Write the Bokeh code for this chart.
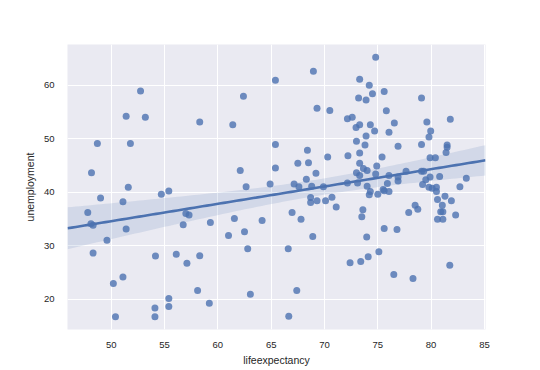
import numpy as np
from bokeh.plotting import figure
from bokeh.models import Range1d, FixedTicker
from bokeh.embed import file_html
from bokeh.resources import INLINE

life = [52.75, 51.4, 53.2, 58.3, 48.7, 51.8, 48.15, 51.6, 55.4, 49.0, 54.7, 51.1, 47.8, 48.1,
        48.3, 51.4, 49.6, 57.0, 57.3, 56.75, 48.3, 54.15, 56.1, 57.1, 58.3, 51.1, 50.2, 58.1,
        55.4, 54.1, 55.4, 50.4, 54.1, 59.3, 62.65, 64.9, 67.15, 67.6, 68.3, 68.8, 69.9, 68.7,
        68.7, 69.3, 70.1, 70.7, 71.1, 61.55, 64.15, 66.96, 67.8, 61.0, 62.5, 68.9, 62.8, 66.6,
        63.05, 67.4, 59.2, 66.65, 68.96, 65.4, 62.4, 69.3, 70.5, 61.4, 65.4, 68.4, 70.3, 65.4,
        67.5, 68.5, 62.1, 69.2, 74.8, 73.3, 74.2, 74.5, 75.6, 73.2, 73.9, 79.1, 75.8, 72.15,
        72.6, 72.96, 73.3, 74.3, 74.7, 76.55, 76.05, 79.6, 79.96, 79.8, 81.8, 73.9, 73.0, 73.8,
        76.9, 79.1, 81.5, 81.5, 81.4, 72.2, 73.3, 75.4, 79.9, 80.4, 73.3, 73.65, 74.0, 74.9,
        73.0, 73.3, 74.8, 76.05, 76.9, 77.65, 79.1, 79.3, 76.9, 75.9, 74.0, 75.5, 79.5, 79.9,
        80.8, 83.3, 79.2, 79.8, 80.5, 82.7, 72.15, 73.1, 74.3, 74.2, 75.0, 75.6, 76.05, 80.1,
        80.5, 73.6, 73.5, 75.6, 76.8, 77.9, 78.5, 78.75, 81.3, 81.9, 80.6, 81.05, 80.9, 81.1,
        80.6, 81.1, 82.3, 73.96, 75.1, 72.4, 73.4, 74.1, 76.5, 78.3, 81.75]
unemployment = [58.9, 54.2, 54.0, 53.1, 49.1, 49.1, 43.6, 40.9, 40.2, 38.9, 39.6, 38.2, 36.2, 34.1,
                33.8, 33.1, 31.0, 36.0, 35.7, 33.9, 28.6, 28.05, 28.35, 26.7, 28.1, 24.1, 22.9, 21.6,
                20.1, 18.3, 18.6, 16.7, 16.7, 34.3, 41.0, 41.5, 41.5, 41.0, 42.4, 41.1, 41.0, 39.0,
                38.05, 38.4, 38.4, 39.05, 37.2, 35.05, 34.7, 36.2, 34.9, 31.9, 32.6, 31.7, 29.4, 29.4,
                20.9, 21.6, 19.2, 16.8, 62.6, 60.9, 57.9, 55.7, 55.25, 52.6, 48.9, 47.8, 46.55, 44.5,
                45.4, 45.5, 44.05, 43.5, 65.2, 61.1, 60.0, 58.4, 58.8, 57.6, 57.2, 57.6, 55.2, 53.7,
                54.0, 52.1, 52.6, 52.6, 51.4, 52.9, 51.2, 53.1, 51.4, 50.3, 53.6, 50.5, 49.5, 48.8,
                48.55, 48.9, 48.8, 48.4, 47.4, 46.8, 47.3, 46.55, 46.4, 46.4, 45.4, 44.4, 44.05, 44.9,
                43.6, 43.1, 43.4, 43.1, 42.8, 43.9, 43.9, 43.9, 42.05, 41.6, 41.1, 40.5, 42.3, 42.8,
                42.9, 42.6, 41.4, 40.9, 40.9, 41.0, 41.7, 41.7, 40.1, 39.5, 39.6, 40.25, 40.1, 40.7,
                40.1, 36.7, 35.4, 33.2, 33.0, 36.2, 37.55, 36.8, 39.2, 38.4, 38.6, 37.55, 36.3, 36.3,
                34.9, 34.9, 35.7, 31.6, 28.85, 26.8, 27.0, 27.9, 24.6, 23.85, 26.3]
x_ticks = [50, 55, 60, 65, 70, 75, 80, 85]
y_ticks = [20, 30, 40, 50, 60]
x_label = "lifeexpectancy"
y_label = "unemployment"

BLUE = "#4C72B0"
FONT = "Liberation Sans"

p = figure(frame_width=418, frame_height=285, output_backend="svg", toolbar_location=None,
           x_range=Range1d(45.9, 85.1), y_range=Range1d(14.3, 67.6),
           min_border_left=67, min_border_right=55, min_border_top=44, min_border_bottom=41)
p.background_fill_color = "#EAEAF2"
p.border_fill_color = "white"
p.outline_line_color = None
p.grid.grid_line_color = "white"
p.grid.grid_line_width = 1

p.xaxis.ticker = FixedTicker(ticks=x_ticks)
p.yaxis.ticker = FixedTicker(ticks=y_ticks)
for ax in (p.xaxis, p.yaxis):
    ax.axis_line_color = None
    ax.major_tick_line_color = None
    ax.minor_tick_line_color = None
    ax.major_label_text_font = FONT
    ax.major_label_text_font_size = "9.5px"
    ax.major_label_text_color = "#262626"
    ax.axis_label_text_font = FONT
    ax.axis_label_text_font_size = "10.5px"
    ax.axis_label_text_font_style = "normal"
    ax.axis_label_text_color = "#262626"
p.xaxis.axis_label = x_label
p.yaxis.axis_label = y_label
p.xaxis.major_label_standoff = 6
p.yaxis.major_label_standoff = 7
p.xaxis.axis_label_standoff = 3
p.yaxis.axis_label_standoff = 5

x = np.array(life)
y = np.array(unemployment)
p.scatter(x, y, size=7, fill_color=BLUE, fill_alpha=0.8, line_color=None)

b, a = np.polyfit(x, y, 1)
n = len(x)
xm = x.mean()
resid = y - (a + b * x)
s = np.sqrt((resid ** 2).sum() / (n - 2))
sxx = ((x - xm) ** 2).sum()
xs = np.linspace(p.x_range.start, p.x_range.end, 100)
yh = a + b * xs
se = s * np.sqrt(1.0 / n + (xs - xm) ** 2 / sxx)
p.varea(x=xs, y1=yh - 1.975 * se, y2=yh + 1.975 * se, fill_color=BLUE, fill_alpha=0.15)
p.line(xs, yh, line_color=BLUE, line_width=2.6)

open("out.html", "w").write(file_html(p, INLINE))
